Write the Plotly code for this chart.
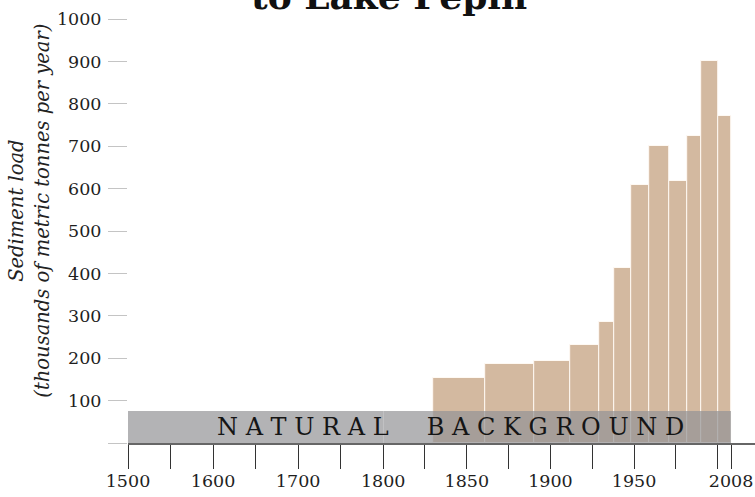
import plotly.graph_objects as go

# sediment load to Lake Pepin, thousands of metric tonnes per year
PERIOD_EDGES = [1830, 1861, 1890, 1912, 1929, 1938, 1948, 1959, 1971, 1982, 1990, 2000, 2008]
SEDIMENT_LOAD = [153, 186, 194, 232, 285, 413, 609, 700, 618, 725, 900, 772]

NATURAL_BG = 75
BG_START, BG_END = 1500, 2008

# x axis is split: 50 yr per tick before 1800, 25 yr per tick after
AXIS_BREAK = 1800
EARLY_TICKS = [1500, 1550, 1600, 1650, 1700, 1750, 1800]
EARLY_LABELS = ["1500", "", "1600", "", "1700", "", "1800"]
LATE_TICKS = [1825, 1850, 1875, 1900, 1925, 1950, 1975, 2000, 2008]
LATE_LABELS = ["", "1850", "", "1900", "", "1950", "", "", "2008"]
Y_TICKS = list(range(0, 1001, 100))
Y_LABELS = [""] + [str(v) for v in Y_TICKS[1:]]

BAR_COLOR = "#D3B9A0"
BAND_COLOR = "rgba(147,147,149,0.7)"
TICK_FONT = dict(family="DejaVu Serif", size=17.5, color="#1e1e1e")

mids = [(a + b) / 2 for a, b in zip(PERIOD_EDGES[:-1], PERIOD_EDGES[1:])]
widths = [b - a for a, b in zip(PERIOD_EDGES[:-1], PERIOD_EDGES[1:])]

fig = go.Figure()

fig.add_trace(go.Bar(
    x=mids, y=SEDIMENT_LOAD, width=widths, base=0, xaxis="x2", yaxis="y",
    marker=dict(color=BAR_COLOR, line=dict(color="rgba(255,250,244,0.95)", width=1)),
    hoverinfo="skip",
))

# natural background band, one piece per axis segment
for seg, ax in [((BG_START, AXIS_BREAK), "x"), ((AXIS_BREAK, BG_END), "x2")]:
    fig.add_trace(go.Bar(
        x=[(seg[0] + seg[1]) / 2], y=[NATURAL_BG], width=[seg[1] - seg[0]], base=0,
        xaxis=ax, yaxis="y", marker=dict(color=BAND_COLOR, line=dict(width=0)),
        hoverinfo="skip",
    ))

split = 0.407
axis_common = dict(
    showline=True, linecolor="#666666", linewidth=1.5, showgrid=False, zeroline=False,
    ticks="outside", ticklen=24, tickwidth=1.2, tickcolor="#333333",
    tickfont=TICK_FONT, ticklabelstandoff=-3, anchor="y", fixedrange=True,
    automargin=False,
)
fig.update_layout(
    xaxis=dict(domain=[0, split], range=[BG_START, AXIS_BREAK],
               tickvals=EARLY_TICKS, ticktext=EARLY_LABELS, **axis_common),
    xaxis2=dict(domain=[split, 1], range=[AXIS_BREAK, 2022.3],
                tickvals=LATE_TICKS, ticktext=LATE_LABELS, **axis_common),
    yaxis=dict(range=[0, 1000], tickvals=Y_TICKS, ticktext=Y_LABELS,
               showline=False, showgrid=False, zeroline=False, automargin=False,
               ticks="outside", ticklen=19, tickwidth=1, tickcolor="#c4c4c4",
               tickfont=TICK_FONT, ticklabelstandoff=3, fixedrange=True),
    barmode="overlay", bargap=0,
    showlegend=False,
    width=755, height=497,
    margin=dict(l=128, r=0, t=19, b=54),
    paper_bgcolor="white", plot_bgcolor="white",
)

word_gap = "\u00a0" * 5
band_text = word_gap.join(" ".join(w) for w in ["NATURAL", "BACKGROUND"])
fig.add_annotation(
    text=band_text, xref="paper", yref="y", x=0.5136, y=NATURAL_BG / 2,
    showarrow=False, font=dict(family="DejaVu Serif", size=24, color="#151515"),
)

fig.add_annotation(
    text="<i>Sediment load<br>(thousands of metric tonnes per year)</i>",
    xref="paper", yref="paper", x=-0.157, y=0.547, textangle=-90,
    xanchor="center", yanchor="middle",
    showarrow=False, font=dict(family="DejaVu Serif", size=19.5, color="#222222"),
)

fig.add_annotation(
    text="<b>to Lake Pepin</b>", xref="paper", yref="paper", x=0.417, y=1.0,
    yanchor="bottom", showarrow=False,
    font=dict(family="DejaVu Serif", size=36, color="#111111"),
)

# page body has a default margin; drop it so the figure sits at the window corner
fig.write_html("out.html", config={"displayModeBar": False},
               post_script="document.body.style.margin='0px';")
